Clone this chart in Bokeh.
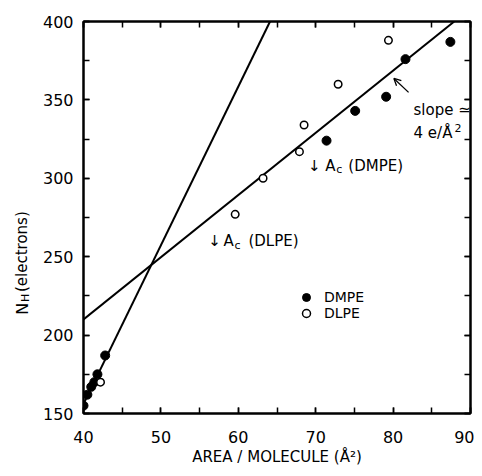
import math
from bokeh.plotting import figure
from bokeh.layouts import row
from bokeh.models import (Range1d, LinearAxis, SingleIntervalTicker, Label, Arrow,
                          OpenHead, Legend, LegendItem)
from bokeh.embed import file_html
from bokeh.resources import INLINE
from bokeh.core.properties import value

# ---- data ----
dmpe_area = [40.0, 40.5, 41.0, 41.4, 41.8, 42.8, 71.4, 75.1, 79.1, 81.6, 87.4]
dmpe_nh = [155, 162, 167, 170, 175, 187, 324, 343, 352, 376, 387]
dlpe_area = [42.2, 59.6, 63.2, 67.9, 68.5, 72.9, 79.4]
dlpe_nh = [170, 277, 300, 317, 334, 360, 388]

steep_x = [39.4, 64.1]
steep_y = [150, 400]
shallow_x = [40.0, 87.9]
shallow_y = [210, 400]

x_min, x_max = 40, 90
y_min, y_max = 150, 400

FONT = "DejaVu Sans"
H = 468

# ---- narrow strip holding the rotated y-axis title (with subscript) ----
lab = figure(width=30, height=H, output_backend="svg", toolbar_location=None,
             x_range=Range1d(0, 30), y_range=Range1d(0, H),
             min_border_left=0, min_border_right=0, min_border_top=0,
             min_border_bottom=0, x_axis_location=None, y_axis_location=None)
lab.grid.visible = False
lab.outline_line_color = None
ang = math.pi / 2
ybase = 118
lab.text(x=[22], y=[ybase], text=["N"], angle=ang, text_font=value(FONT),
         text_font_size=value("16px"), text_baseline="alphabetic", text_align="left",
         text_color="black")
lab.text(x=[25], y=[ybase + 15], text=["H"], angle=ang, text_font=value(FONT),
         text_font_size=value("11px"), text_baseline="alphabetic", text_align="left",
         text_color="black")
lab.text(x=[21], y=[ybase + 27], text=["(electrons)"], angle=ang, text_font=value(FONT),
         text_font_size=value("15px"), text_baseline="alphabetic", text_align="left",
         text_color="black")

# ---- main plot ----
p = figure(width=444, height=H, output_backend="svg", toolbar_location=None,
           x_range=Range1d(x_min, x_max), y_range=Range1d(y_min, y_max),
           min_border_left=53, min_border_right=4, min_border_top=21,
           min_border_bottom=55, x_axis_location=None, y_axis_location=None)
p.grid.visible = False
p.background_fill_color = "white"
p.border_fill_color = "white"
p.outline_line_color = "black"
p.outline_line_width = 2


def mk_axis(side, show_labels):
    horiz = side in ("below", "above")
    ticker = SingleIntervalTicker(interval=10 if horiz else 50, num_minor_ticks=2)
    ax = LinearAxis(ticker=ticker)
    ax.axis_line_width = 2
    ax.major_tick_in = 6
    ax.major_tick_out = 0
    ax.minor_tick_in = 6
    ax.minor_tick_out = 0
    ax.major_tick_line_width = 1.5
    ax.minor_tick_line_width = 1.5
    if show_labels:
        ax.major_label_text_font = FONT
        ax.major_label_text_font_size = "16px"
        ax.major_label_text_color = "black"
        ax.major_label_standoff = 17 if side == "below" else 10
    else:
        vals = range(x_min, x_max + 1, 10) if horiz else range(y_min, y_max + 1, 50)
        ax.major_label_overrides = {v: "" for v in vals}
        ax.major_label_standoff = 0
    p.add_layout(ax, side)
    return ax


xax = mk_axis("below", True)
xax.axis_label = "AREA / MOLECULE (Å²)"
xax.axis_label_text_font = FONT
xax.axis_label_text_font_size = "15px"
xax.axis_label_text_font_style = "normal"
xax.axis_label_text_color = "black"
xax.axis_label_standoff = 2
mk_axis("left", True)
mk_axis("above", False)
mk_axis("right", False)

# fit lines
p.line(steep_x, steep_y, line_color="black", line_width=2)
p.line(shallow_x, shallow_y, line_color="black", line_width=2)

# data points
r_dmpe = p.scatter(dmpe_area, dmpe_nh, marker="circle", size=9,
                   fill_color="black", line_color="black")
r_dlpe = p.scatter(dlpe_area, dlpe_nh, marker="circle", size=7.5,
                   fill_color="white", line_color="black", line_width=1.5)

# legend (two single-entry legends for exact placement)
for r, name, loc in ((r_dmpe, "DMPE", (213, 106)), (r_dlpe, "DLPE", (213, 90))):
    lg = Legend(items=[LegendItem(label=name, renderers=[r])], location=loc,
                glyph_width=20, glyph_height=20, label_height=14, label_standoff=8,
                padding=0, margin=0, spacing=0, border_line_color=None,
                background_fill_alpha=0, label_text_font=FONT,
                label_text_font_size="14px", label_text_color="black")
    p.add_layout(lg, "center")


def txt(x, y, s, size="15px", dx=0, dy=0, align="left", baseline="middle"):
    p.add_layout(Label(x=x, y=y, text=s, x_offset=dx, y_offset=dy, text_font=FONT,
                       text_font_size=size, text_align=align, text_baseline=baseline,
                       text_color="black"))


# A_c (DMPE)
ax1, ay1 = 69.3, 308
txt(ax1, ay1, "↓", dx=4, align="center")
txt(ax1, ay1, "A", dx=15)
txt(ax1, ay1, "c", size="11px", dx=26, dy=-4)
txt(ax1, ay1, "(DMPE)", dx=38)

# A_c (DLPE)
ax2, ay2 = 56.4, 259.8
txt(ax2, ay2, "↓", dx=4, align="center")
txt(ax2, ay2, "A", dx=13)
txt(ax2, ay2, "c", size="11px", dx=24, dy=-4)
txt(ax2, ay2, "(DLPE)", dx=38)

# slope annotation
txt(82.64, 343.4, "slope ≃", size="15px")
txt(82.64, 328.7, "4 e/Å", size="15px")
txt(82.64, 328.7, "2", size="11px", dx=41, dy=5)
p.add_layout(Arrow(x_start=82.0, y_start=354.8, x_end=80.1, y_end=363.7,
                   line_width=1.3, line_color="black",
                   end=OpenHead(size=7, line_width=1.3, line_color="black")))

layout = row(lab, p, spacing=0)
open("out.html", "w").write(file_html(layout, INLINE))
